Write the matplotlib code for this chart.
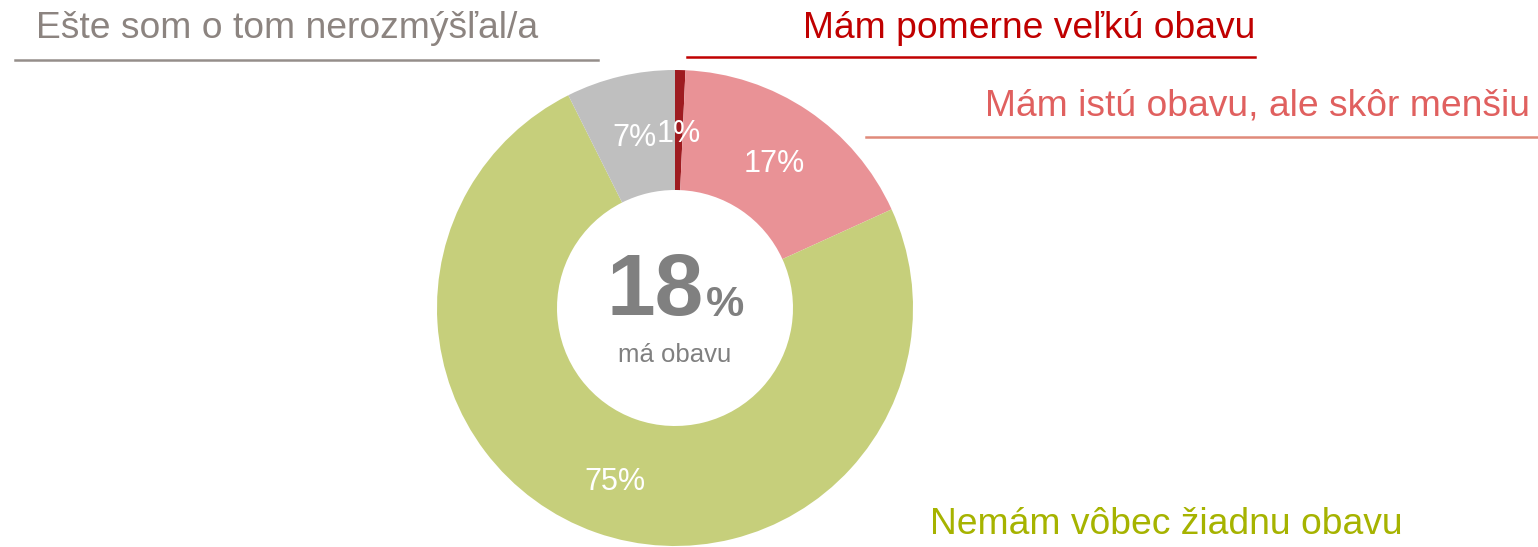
import matplotlib
matplotlib.use("Agg")
import matplotlib.pyplot as plt

plt.rcParams['font.family'] = ['Liberation Sans', 'DejaVu Sans']

# data
categories = ["Mám pomerne veľkú obavu", "Mám istú obavu, ale skôr menšiu",
              "Nemám vôbec žiadnu obavu", "Ešte som o tom nerozmýšľal/a"]
values = [0.7, 17.5, 74.4, 7.4]
pct_labels = ["1%", "17%", "75%", "7%"]
slice_colors = ["#9E1B20", "#E99296", "#C6CF7B", "#BFBFBF"]
text_colors = ["#C00000", "#E0605F", "#A6B300", "#8C8480"]
line_colors = ["#C00000", "#E08A7A", None, "#958E8A"]
center_value = "18"
center_text = "má obavu"

W, H = 1538, 547
fig = plt.figure(figsize=(W / 100, H / 100), dpi=100)
ax = fig.add_axes([0, 0, 1, 1])

cx, cy = 675, H - 308
r_out, r_in = 238, 118

ax.pie(values, colors=slice_colors, startangle=90, counterclock=False,
       center=(cx, cy), radius=r_out, frame=True,
       wedgeprops=dict(width=r_out - r_in, linewidth=0))
ax.set_xlim(0, W)
ax.set_ylim(0, H)
ax.set_aspect("equal")
ax.axis("off")

# percent labels inside the ring
pct_pos = [(679, 134), (774, 164), (615, 482), (634, 138)]
for (x, y), t in zip(pct_pos, pct_labels):
    ax.text(x, H - y, t, color="white", fontsize=22, ha="center", va="center")

# center text
ax.text(704, H - 292, center_value, color="#808080", fontsize=63, fontweight="bold",
        ha="right", va="center")
ax.text(706, H - 305, "%", color="#808080", fontsize=31, fontweight="bold",
        ha="left", va="center")
ax.text(675, H - 355, center_text, color="#808080", fontsize=18.5,
        ha="center", va="center")

# category labels with underlines
fs = 26.8
ax.text(1255, H - 28, categories[0], color=text_colors[0], fontsize=fs,
        ha="right", va="center")
ax.plot([687, 1255], [H - 57, H - 57], color=line_colors[0], lw=1.8)

ax.text(1530, H - 106, categories[1], color=text_colors[1], fontsize=fs,
        ha="right", va="center")
ax.plot([866, 1538], [H - 137, H - 137], color=line_colors[1], lw=1.8)

ax.text(930, H - 524, categories[2], color=text_colors[2], fontsize=fs,
        ha="left", va="center")

ax.text(36, H - 28, categories[3], color=text_colors[3], fontsize=fs,
        ha="left", va="center")
ax.plot([15, 598], [H - 60, H - 60], color=line_colors[3], lw=1.8)

fig.savefig("out.png", dpi=100)
